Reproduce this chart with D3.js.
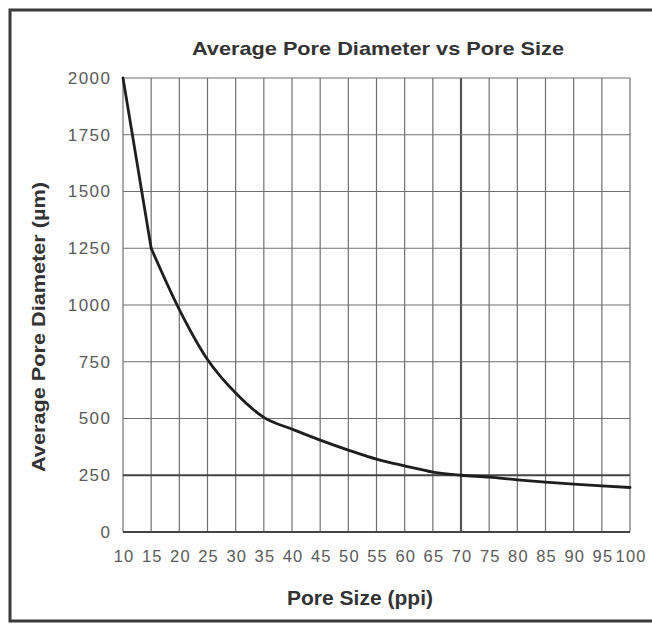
<!DOCTYPE html>
<html>
<head>
<meta charset="utf-8">
<script src="https://cdn.jsdelivr.net/npm/d3@7"></script>
<style>
  html, body { margin: 0; padding: 0; background: #fff; }
  svg { display: block; }
</style>
</head>
<body>
<svg id="chart" width="652" height="624"></svg>
<script>
// ---- data ----
const poreSize = [10, 15, 20, 25, 30, 35, 40, 45, 50, 55, 60, 65, 70, 75, 80, 85, 90, 95, 100];
const avgDiameter = [2000, 1250, 980, 760, 612, 505, 453, 405, 361, 321, 291, 264, 250, 242, 230, 220, 211, 203, 196];
const xTicks = [10, 15, 20, 25, 30, 35, 40, 45, 50, 55, 60, 65, 70, 75, 80, 85, 90, 95, 100];
const yTicks = [0, 250, 500, 750, 1000, 1250, 1500, 1750, 2000];
const titleText = "Average Pore Diameter vs Pore Size";
const xTitle = "Pore Size (ppi)";
const yTitle = "Average Pore Diameter (µm)";

const svg = d3.select("#chart");
const W = 652, H = 624;
const plot = { left: 123, right: 630, top: 78, bottom: 532 };

svg.append("rect").attr("width", W).attr("height", H).attr("fill", "#fff");

// outer frame
svg.append("rect")
  .attr("x", 10).attr("y", 10).attr("width", 660).attr("height", 611)
  .attr("fill", "none").attr("stroke", "#3a3a3a").attr("stroke-width", 3);

const x = d3.scaleLinear().domain([10, 100]).range([plot.left, plot.right]);
const y = d3.scaleLinear().domain([0, 2000]).range([plot.bottom, plot.top]);

// grid
const grid = svg.append("g");
grid.selectAll("line.v").data(xTicks).join("line")
  .attr("class", "v")
  .attr("x1", d => x(d)).attr("x2", d => x(d))
  .attr("y1", plot.top).attr("y2", plot.bottom)
  .attr("stroke", d => d === 70 ? "#555" : "#707070")
  .attr("stroke-width", d => d === 70 ? 2.2 : 1.2);
grid.selectAll("line.h").data(yTicks).join("line")
  .attr("class", "h")
  .attr("x1", plot.left).attr("x2", plot.right)
  .attr("y1", d => y(d)).attr("y2", d => y(d))
  .attr("stroke", d => (d === 250 || d === 0) ? "#444" : "#707070")
  .attr("stroke-width", d => (d === 250 || d === 0) ? 2 : 1.2);

// axes (labels only, via d3 axes)
const font = "Arial, 'Liberation Sans', Helvetica, sans-serif";
const yAxis = svg.append("g")
  .attr("transform", `translate(${plot.left},0)`)
  .call(d3.axisLeft(y).tickValues(yTicks).tickSize(0).tickPadding(11.5).tickFormat(d3.format("d")));
yAxis.select(".domain").remove();
yAxis.selectAll("text")
  .attr("font-family", font).attr("font-size", 17).attr("fill", "#5a5a5a")
  .attr("letter-spacing", "1.5px");

const xAxis = svg.append("g")
  .attr("transform", `translate(0,${plot.bottom})`)
  .call(d3.axisBottom(x).tickValues(xTicks).tickSize(0).tickPadding(18).tickFormat(d3.format("d")));
xAxis.select(".domain").remove();
xAxis.selectAll("text")
  .attr("font-family", font).attr("font-size", 16.5).attr("fill", "#5a5a5a")
  .attr("letter-spacing", "1.2px")
  .attr("dx", "0.6px");

// curve: straight first segment, smooth afterwards
const line = d3.line()
  .x(d => x(d[0]))
  .y(d => y(d[1]));
const pts = poreSize.map((p, i) => [p, avgDiameter[i]]);
svg.append("path")
  .datum(pts.slice(0, 2))
  .attr("d", line.curve(d3.curveLinear))
  .attr("fill", "none").attr("stroke", "#1e1e1e").attr("stroke-width", 2.8)
  .attr("stroke-linecap", "round");
svg.append("path")
  .datum(pts.slice(1))
  .attr("d", line.curve(d3.curveMonotoneX))
  .attr("fill", "none").attr("stroke", "#1e1e1e").attr("stroke-width", 2.8)
  .attr("stroke-linecap", "round");

// titles
svg.append("text")
  .attr("x", 378).attr("y", 55)
  .attr("text-anchor", "middle")
  .attr("font-family", font).attr("font-weight", "bold").attr("font-size", 19)
  .attr("textLength", 372).attr("lengthAdjust", "spacingAndGlyphs")
  .attr("fill", "#333")
  .text(titleText);

svg.append("text")
  .attr("x", 360).attr("y", 605)
  .attr("text-anchor", "middle")
  .attr("font-family", font).attr("font-weight", "bold").attr("font-size", 19.5)
  .attr("textLength", 146).attr("lengthAdjust", "spacingAndGlyphs")
  .attr("fill", "#333")
  .text(xTitle);

svg.append("text")
  .attr("transform", "translate(45,327) rotate(-90)")
  .attr("text-anchor", "middle")
  .attr("font-family", font).attr("font-weight", "bold").attr("font-size", 18.5)
  .attr("textLength", 290).attr("lengthAdjust", "spacingAndGlyphs")
  .attr("fill", "#333")
  .text(yTitle);
</script>
</body>
</html>
